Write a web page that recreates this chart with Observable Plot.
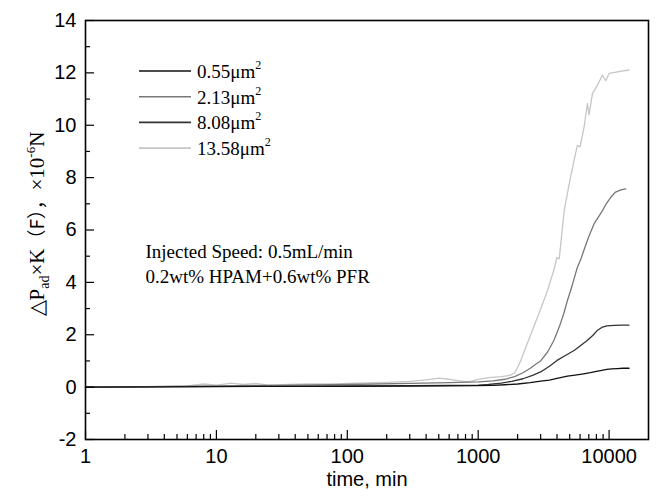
<!DOCTYPE html>
<html><head><meta charset="utf-8">
<script src="https://cdn.jsdelivr.net/npm/d3@7"></script>
<script src="https://cdn.jsdelivr.net/npm/@observablehq/plot@0.6"></script>
<style>body{margin:0;background:#fff}#chart{width:657px;height:500px}</style>
</head><body><div id="chart"></div>
<script>
// ---- data ----
const seriesNames = ["0.55μm", "2.13μm", "8.08μm", "13.58μm"];
const seriesColors = ["#111111", "#787878", "#333333", "#c6c6c6"];

const t055 = [1, 3, 10, 30, 100, 300, 600, 1000, 1300, 1600, 2000, 2500, 3000, 3500, 4000, 4800, 5500, 6200, 7200, 8000, 8800, 9600, 10500, 11500, 12800, 14200];
const v055 = [0, 0.01, 0.02, 0.03, 0.03, 0.04, 0.05, 0.06, 0.07, 0.09, 0.12, 0.17, 0.23, 0.27, 0.33, 0.42, 0.46, 0.5, 0.55, 0.6, 0.64, 0.68, 0.7, 0.71, 0.72, 0.72];

const t213 = [1, 3, 10, 30, 100, 300, 600, 1000, 1300, 1600, 1900, 2200, 2500, 2800, 3000, 3400, 3800, 4200, 4500, 4800, 5200, 5700, 6100, 6500, 7000, 7700, 8300, 8900, 9500, 10300, 11200, 12300, 13400];
const v213 = [0, 0.02, 0.05, 0.07, 0.1, 0.14, 0.17, 0.2, 0.24, 0.3, 0.4, 0.55, 0.72, 0.9, 1.0, 1.35, 1.8, 2.35, 2.8, 3.3, 3.85, 4.55, 4.9, 5.3, 5.75, 6.25, 6.5, 6.74, 7.0, 7.25, 7.45, 7.53, 7.57];

const t808 = [1, 3, 10, 30, 100, 300, 600, 1000, 1200, 1500, 1800, 2200, 2600, 3000, 3500, 4000, 4600, 5400, 6000, 6800, 7500, 8100, 8800, 9600, 11000, 12500, 14200];
const v808 = [0, 0.01, 0.03, 0.04, 0.05, 0.06, 0.07, 0.08, 0.1, 0.15, 0.22, 0.32, 0.45, 0.58, 0.8, 1.02, 1.2, 1.4, 1.57, 1.78, 1.97, 2.16, 2.28, 2.34, 2.36, 2.37, 2.37];

const t1358 = [1, 2, 4, 6, 8, 10, 13, 16, 20, 25, 35, 50, 80, 120, 200, 300, 400, 500, 600, 700, 850, 1000, 1200, 1500, 1750, 1900, 2000, 2130, 2300, 2520, 2750, 3010, 3390, 3800, 3990, 4160, 4540, 4960, 5400, 5720, 6000, 6440, 6830, 7030, 7460, 8150, 8900, 9440, 10000, 11600, 14200];
const v1358 = [0, 0.01, 0.03, 0.05, 0.12, 0.08, 0.15, 0.1, 0.14, 0.08, 0.1, 0.12, 0.12, 0.15, 0.18, 0.22, 0.28, 0.34, 0.3, 0.25, 0.2, 0.3, 0.36, 0.4, 0.45, 0.55, 0.75, 1.05, 1.5, 2.0, 2.5, 3.0, 3.7, 4.5, 4.95, 4.9, 6.74, 7.77, 8.66, 9.23, 9.17, 9.93, 10.83, 10.4, 11.21, 11.53, 11.92, 11.7, 11.98, 12.04, 12.11];

const xTickValues = [1, 10, 100, 1000, 10000];
const yTickValues = [-2, 0, 2, 4, 6, 8, 10, 12, 14];
const yMinorValues = [-1, 1, 3, 5, 7, 9, 11, 13];
const annotationLines = ["Injected Speed: 0.5mL/min", "0.2wt% HPAM+0.6wt% PFR"];
const xLabel = "time, min";

// ---- build table ----
const seriesT = [t055, t213, t808, t1358];
const seriesV = [v055, v213, v808, v1358];
const rows = [];
[3, 2, 1, 0].forEach(i => seriesT[i].forEach((t, j) => rows.push({s: seriesNames[i], t, v: seriesV[i][j]})));
const xMinorValues = [];
for (const d of [1, 10, 100, 1000]) for (let k = 2; k <= 9; k++) xMinorValues.push(d * k);

const W = 657, H = 500, mL = 85, mR = 9, mT = 20, mB = 61;
const innerW = W - mL - mR, innerH = H - mT - mB;
const serif = "'Liberation Serif','Times New Roman',serif";

const plot = Plot.plot({
  width: W, height: H,
  marginLeft: mL, marginRight: mR, marginTop: mT, marginBottom: mB,
  style: {fontFamily: "'Liberation Sans', Arial, sans-serif", fontSize: "20px", color: "#000", background: "#fff"},
  x: {type: "log", domain: [1, 20000], ticks: xTickValues, tickFormat: d => String(d), tickSize: 0, tickPadding: 9, label: null},
  y: {domain: [-2, 14], ticks: yTickValues, tickFormat: d => String(d), tickSize: 0, tickPadding: 9, label: null},
  color: {domain: seriesNames, range: seriesColors},
  marks: [
    Plot.line(rows, {x: "t", y: "v", z: "s", stroke: "s", strokeWidth: 1.3}),
    Plot.tickX(xTickValues, {x: d => d, insetTop: innerH - 9, stroke: "#000", strokeWidth: 1.2}),
    Plot.tickX(xMinorValues, {x: d => d, insetTop: innerH - 5, stroke: "#000", strokeWidth: 1.2}),
    Plot.tickY(yTickValues, {y: d => d, insetRight: innerW - 9, stroke: "#000", strokeWidth: 1.2}),
    Plot.tickY(yMinorValues, {y: d => d, insetRight: innerW - 5, stroke: "#000", strokeWidth: 1.2}),
    Plot.frame({stroke: "#000", strokeWidth: 1.6}),
    Plot.text([xLabel], {frameAnchor: "bottom", dy: 46, text: d => d, fontSize: 20}),
    Plot.text([annotationLines.join("\n")], {frameAnchor: "top-left", dx: 60, dy: 220, textAnchor: "start", lineAnchor: "top", lineHeight: 1.32, fontFamily: serif, fontSize: 19})
  ]
});
document.getElementById("chart").append(plot);

const svg = d3.select(plot.tagName.toLowerCase() === "svg" ? plot : plot.querySelector("svg"));

// legend
const lg = svg.append("g").attr("text-anchor", "start");
seriesNames.forEach((name, i) => {
  const y = 71 + i * 25.7;
  lg.append("line").attr("x1", 139).attr("x2", 191).attr("y1", y).attr("y2", y)
    .attr("stroke", seriesColors[i]).attr("stroke-width", 1.6);
  const tx = lg.append("text").attr("x", 197).attr("y", y + 7).attr("text-anchor", "start")
    .attr("font-family", serif).attr("font-size", 19).attr("fill", "#000");
  tx.append("tspan").text(name);
  tx.append("tspan").attr("font-size", 12).attr("dy", -9).text("2");
});

// y-axis label
const yl = svg.append("text").attr("transform", "translate(44,224) rotate(-90)")
  .attr("text-anchor", "middle").attr("font-family", serif).attr("font-size", 21).attr("fill", "#000");
yl.append("tspan").text("△P");
yl.append("tspan").attr("font-size", 14).attr("dy", 5).text("ad");
yl.append("tspan").attr("dy", -5).text("×K");
yl.append("tspan").attr("font-family", "'Noto Sans CJK SC'").attr("font-size", 19).text("（F），");
yl.append("tspan").text("×10");
yl.append("tspan").attr("font-size", 13).attr("dy", -9).text("-6");
yl.append("tspan").attr("dy", 9).text("N");
</script>
</body></html>
